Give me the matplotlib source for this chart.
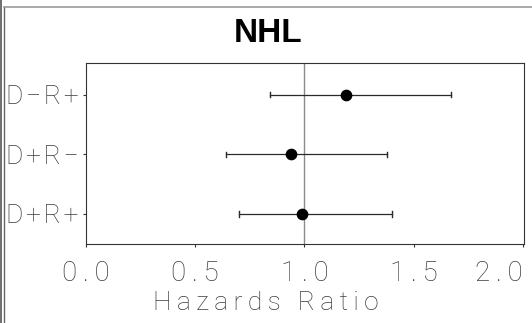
import matplotlib
matplotlib.use("Agg")
import matplotlib.pyplot as plt
from matplotlib.lines import Line2D
from matplotlib.transforms import ScaledTranslation

# Hazard ratios with 95% confidence limits, by donor/recipient serostatus
groups = ["D−R+", "D+R−", "D+R+"]
hr = [1.19, 0.94, 0.99]
lower = [0.84, 0.64, 0.70]
upper = [1.67, 1.38, 1.40]
xticks = [0.0, 0.5, 1.0, 1.5, 2.0]
title = "NHL"
xlabel = "Hazards Ratio"

THIN = "\u2009"
HAIR = "\u200a"


def spaced(s, sep=THIN):
    return sep.join(list(s))


FONT = ["Roboto", "DejaVu Sans"]
TXT = "#3c3c3c"
FS = 20

fig = plt.figure(figsize=(5.32, 3.23), dpi=100)
ax = fig.add_axes([86 / 532, 1 - 244.3 / 323, (524 - 86) / 532, (244.3 - 63) / 323])

ypos = list(range(len(groups), 0, -1))

ax.axvline(1.0, color="#8a8a8a", lw=1.0, zorder=1)
for y, m, lo, hi in zip(ypos, hr, lower, upper):
    ax.plot([lo, hi], [y, y], color="#2a2a2a", lw=0.9, zorder=2)
    ax.plot([lo, lo], [y - 0.045, y + 0.045], color="#2a2a2a", lw=1.0, zorder=2)
    ax.plot([hi, hi], [y - 0.045, y + 0.045], color="#2a2a2a", lw=1.0, zorder=2)
    ax.plot([m], [y], "o", color="black", ms=7.4, zorder=3)

ax.set_xlim(0, 2.005)
ax.set_ylim(0.49, 3.53)
ax.set_xticks(xticks)
xtl = ax.set_xticklabels([spaced(f"{v:.1f}") for v in xticks],
                         family=FONT, weight="light", fontsize=FS, color=TXT)
# keep the last label inside the figure, flush with the right edge
xtl[-1].set_horizontalalignment("right")
xtl[-1].set_transform(xtl[-1].get_transform()
                      + ScaledTranslation(7 / 100, 0, fig.dpi_scale_trans))
ax.set_yticks(ypos)
ax.set_yticklabels([spaced(g, HAIR) for g in groups],
                   family=FONT, weight="light", fontsize=19, color=TXT)
ax.tick_params(axis="both", direction="out", length=2.5, width=0.8, color="#333333")
ax.tick_params(axis="x", pad=9)
ax.tick_params(axis="y", pad=3)
for s in ax.spines.values():
    s.set_color("#333333")
    s.set_linewidth(0.8)

fig.text(268 / 532, 1 - 33 / 323, title, ha="center", va="center",
         family="Liberation Sans", weight="bold", fontsize=24, color="black")
fig.text(266 / 532, 1 - 303 / 323, spaced(xlabel), ha="center", va="center",
         family=FONT, weight="light", fontsize=19, color=TXT)

# outer frame lines
fig.add_artist(Line2D([0.6 / 532, 0.6 / 532], [0, 1], transform=fig.transFigure,
                      color="#555555", lw=1.2))
fig.add_artist(Line2D([4 / 532, 4 / 532], [0, 1 - 7 / 323], transform=fig.transFigure,
                      color="#666666", lw=1.0))
fig.add_artist(Line2D([4 / 532, 1], [1 - 7 / 323, 1 - 7 / 323], transform=fig.transFigure,
                      color="#999999", lw=1.2))

fig.savefig("out.png", dpi=100)
